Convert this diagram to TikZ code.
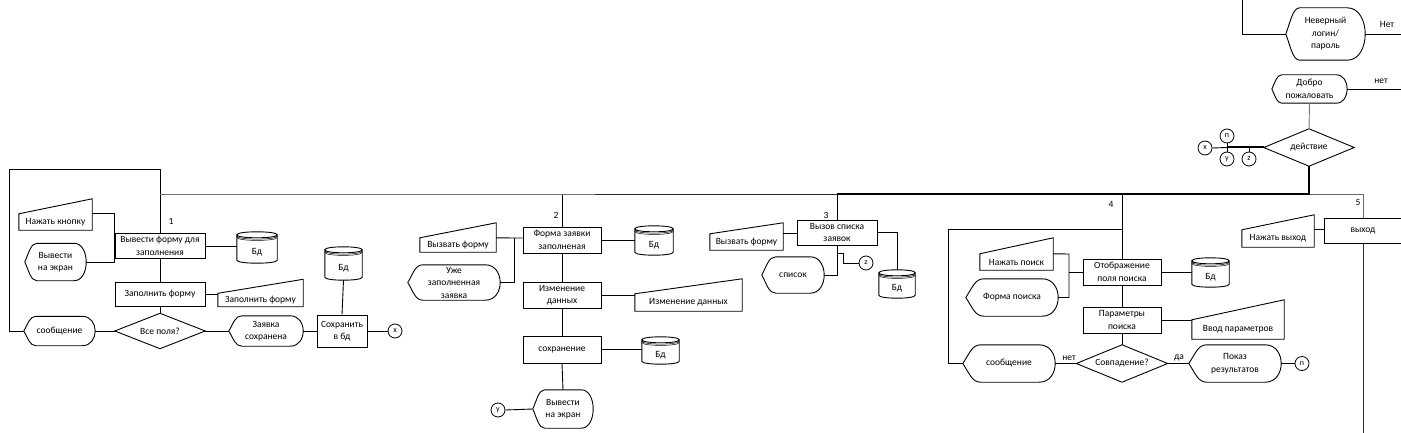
\documentclass[tikz,border=0pt]{standalone}
\usepackage{fontspec}
\setmainfont{Carlito}
\usetikzlibrary{calc}
\newcommand\dispS[3]{\draw[shp] (#1.west) .. controls ($(#1.west)!0.5!(#1.north west)+(0.35*#2pt,0)$) and ([xshift=0.5*#2pt]#1.north west) .. ([xshift=#2pt]#1.north west) -- ([xshift=-#3pt]#1.north east) .. controls ([xshift=#3pt/3]#1.north east) and ([xshift=#3pt/3]#1.south east) .. ([xshift=-#3pt]#1.south east) -- ([xshift=#2pt]#1.south west) .. controls ([xshift=0.5*#2pt]#1.south west) and ($(#1.west)!0.5!(#1.south west)+(0.35*#2pt,0)$) .. (#1.west);}
\newcommand\manS[2]{\draw[shp] (#1.south west) -- (#1.north west) -- ([yshift=#2pt]#1.north east) -- (#1.south east) -- cycle;}
\newcommand\diaS[1]{\draw[shp] (#1.west) -- (#1.north) -- (#1.east) -- (#1.south) -- cycle;}
\newcommand\dbS[1]{%
\draw[shp] (#1.north west) .. controls ([yshift=4pt]#1.north west) and ([yshift=4pt]#1.north east) .. (#1.north east) .. controls ([yshift=-4pt]#1.north east) and ([yshift=-4pt]#1.north west) .. (#1.north west) -- (#1.south west) .. controls ([yshift=-4pt]#1.south west) and ([yshift=-4pt]#1.south east) .. (#1.south east) -- (#1.north east);
\draw[shp,line width=0.5pt] ([yshift=-1.3pt]#1.north west) .. controls ([yshift=-5.3pt]#1.north west) and ([yshift=-5.3pt]#1.north east) .. ([yshift=-1.3pt]#1.north east);
\draw[shp,line width=0.5pt] ([yshift=-2.6pt]#1.north west) .. controls ([yshift=-6.6pt]#1.north west) and ([yshift=-6.6pt]#1.north east) .. ([yshift=-2.6pt]#1.north east);}
\begin{document}
\begin{tikzpicture}[x=1pt,y=-1pt,
  sz/.style 2 args={minimum width=#1pt, minimum height=#2pt},
  tx/.style={inner sep=0pt, align=center, font=\fontsize{9.5}{12.5}\selectfont},
  bx/.style={tx, draw, line width=0.9pt},
  dbt/.style={tx, text height=13pt, text depth=0pt},
  shp/.style={draw, line width=0.9pt},
  ln/.style={line width=0.9pt},
  bold/.style={line width=2pt},
  cc/.style={circle, draw, line width=0.8pt, minimum size=14pt, inner sep=0pt, font=\fontsize{8}{9}\selectfont},
  num/.style={inner sep=0pt, font=\fontsize{9.5}{11}\selectfont}]
\useasboundingbox (0,0) rectangle (1401,433);
\fill[white] (0,0) rectangle (1401,433);

% ---------- column 1
\node[bx, sz={90}{25}] (b1) at (160,246) {Вывести форму для\\заполнения};
\node[tx, sz={73}{16}] (m1) at (55.5,222) {Нажать кнопку};
\node[tx, sz={61}{37}] (d1) at (55.5,262) {Вывести\\на экран};
\node[dbt, sz={40}{25}] (db1) at (257,247.5) {Бд};
\node[bx, sz={90}{24}] (b2) at (160,294) {Заполнить форму};
\node[tx, sz={85}{13}] (m2) at (260.5,300) {Заполнить форму};
\node[tx, sz={90}{35}] (q1) at (160,331) {Все поля?};
\node[tx, sz={71}{29}] (d2) at (59.5,331) {сообщение};
\node[tx, sz={74}{30}] (d3) at (266,331) {Заявка\\сохранена};
\node[bx, sz={50}{32}] (b3) at (342,331) {Сохранить\\в бд};
\node[dbt, sz={37}{27}] (db2) at (343.5,263.5) {Бд};
\node[cc] (cx1) at (395,331) {x};
\node[num] (n1) at (171,221) {1};
\manS{m1}{15} \dispS{d1}{12}{12} \dbS{db1} \manS{m2}{14} \diaS{q1} \dispS{d2}{12}{13} \dispS{d3}{13}{13} \dbS{db2}

\coordinate (t0) at (9,169);
\coordinate (t1) at (160,169);
\coordinate (h1) at (160,194);
\coordinate (hm) at (595,194);
\coordinate (c2) at (562,194);
\coordinate (c3) at (837,194);
\coordinate (c4) at (1122,194);
\coordinate (hub) at (1309,194);
\coordinate (c5) at (1363,194);
\coordinate (c5b) at (1363,433);

\draw[ln] (d2.west) -| (t0) -- (t1) -- (b1.north);
\draw[ln] (m1.north east) -- (m1.north east -| b1.west) -- (b1.west |- d1.east) -- (d1.east);
\draw[ln] (b1.east) -- (b1.east -| db1.west);
\draw[ln] (b1.south) -- (b2.north);
\draw[ln] (b2.east) -- (b2.east -| m2.west);
\draw[ln] (b2.south) -- (q1.north);
\draw[ln] (q1.west) -- (d2.east);
\draw[ln] (q1.east) -- (d3.west);
\draw[ln] (d3.east) -- (b3.west);
\draw[ln] ([yshift=-3pt]db2.south) -- (b3.north);
\draw[ln] (b3.east) -- (cx1.west);

% ---------- column 2
\node[bx, sz={78}{26}] (b4) at (562,240) {Форма заявки\\заполненая};
\node[tx, sz={76}{14}] (m3) at (458,245) {Вызвать форму};
\node[tx, sz={92}{35}] (d4) at (454,282.5) {Уже\\заполненная\\заявка};
\node[dbt, sz={38}{23}] (db3) at (654,240.5) {Бд};
\node[bx, sz={78}{26}] (b5) at (562,295) {Изменение\\данных};
\node[tx, sz={107}{17}] (m4) at (688.5,302.5) {Изменение данных};
\node[bx, sz={78}{27}] (b6) at (562,349.5) {сохранение};
\node[dbt, sz={37}{21}] (db4) at (660.5,350.5) {Бд};
\node[tx, sz={60}{38}] (d5) at (563,409) {Вывести\\на экран};
\node[cc] (cy1) at (498,410) {y};
\node[num] (n2) at (556,215) {2};
\manS{m3}{15} \dispS{d4}{15}{15} \dbS{db3} \manS{m4}{15} \dbS{db4} \dispS{d5}{12}{12}
\coordinate (j2) at (514,238);
\draw[ln] (m3.north east) -- (j2) -- (j2 -| b4.west);
\draw[ln] (j2) |- (d4.east);
\draw[ln] (c2) -- (b4.north);
\draw[ln] (b4.east) -- (b4.east -| db3.west);
\draw[ln] (b4.south) -- (b5.north);
\draw[ln] (b5.east) -- (b5.east -| m4.west);
\draw[ln] (b5.south) -- (b6.north);
\draw[ln] (b6.east) -- (b6.east -| db4.west);
\draw[ln] (b6.south) -- (d5.north);
\draw[ln] (cy1.east) -- (d5.west);

% ---------- column 3
\node[bx, sz={80}{25}] (b7) at (837,232.5) {Вызов списка\\заявок};
\node[tx, sz={73}{16}] (m5) at (746.5,242) {Вызвать форму};
\node[tx, sz={62}{36}] (d6) at (793,275) {список};
\node[dbt, sz={36}{22}] (db5) at (897,284) {Бд};
\node[cc] (cz1) at (866,263) {z};
\node[num] (n3) at (826,215) {3};
\manS{m5}{11} \dispS{d6}{14}{14} \dbS{db5}
\coordinate (j3) at (837,253);
\coordinate (j3b) at (843,253);
\draw[ln] (c3) -- (b7.north);
\draw[ln] (m5.north east) -- (m5.north east -| b7.west);
\draw[ln] (b7.south) |- (d6.east);
\draw[ln] (j3) -- (j3b) |- (cz1.west);
\draw[ln] (b7.east) -| ([yshift=3pt]db5.north);

% ---------- column 4
\node[bx, sz={78}{26}] (b8) at (1122,272) {Отображение\\поля поиска};
\node[tx, sz={73}{16}] (m6) at (1016.5,262) {Нажать поиск};
\node[tx, sz={92}{37}] (d8) at (1012,297.5) {Форма поиска};
\node[dbt, sz={37}{23}] (db6) at (1210.5,272.5) {Бд};
\node[bx, sz={78}{26}] (b9) at (1122,320) {Параметры\\поиска};
\node[tx, sz={92}{19}] (m7) at (1238,329.5) {Ввод параметров};
\node[tx, sz={91}{37}] (q2) at (1122,363.5) {Совпадение?};
\node[tx, sz={92}{37}] (d7) at (1009,363.5) {сообщение};
\node[tx, sz={92}{37}] (d9) at (1235,363.5) {Показ\\результатов};
\node[cc] (cn1) at (1302,363.5) {n};
\node[num] (n4) at (1111,204) {4};
\node[num] (lnet) at (1069,358) {нет};
\node[num] (lda) at (1179,358) {да};
\manS{m6}{16} \dispS{d8}{18}{16} \dbS{db6} \manS{m7}{20} \diaS{q2} \dispS{d7}{18}{16} \dispS{d9}{18}{16}
\coordinate (j4) at (1069,254);
\coordinate (k0) at (948,229);
\coordinate (k1) at (1122,229);
\draw[ln] (c4) -- (b8.north);
\draw[ln] (m6.north east) -- (j4) |- (d8.east);
\draw[ln] (j4 |- b8.west) -- (b8.west);
\draw[ln] (b8.east) -- (b8.east -| db6.west);
\draw[ln] (b8.south) -- (b9.north);
\draw[ln] (b9.east) -- (b9.east -| m7.west);
\draw[ln] (b9.south) -- (q2.north);
\draw[ln] (q2.west) -- (d7.east);
\draw[ln] (q2.east) -- (d9.west);
\draw[ln] (d9.east) -- (cn1.west);
\draw[ln] (d7.west) -| (k0) -- (k1);

% ---------- column 5
\node[bx, sz={78}{25}] (b10) at (1363,230.5) {выход};
\node[tx, sz={72}{17}] (m8) at (1278,238.5) {Нажать выход};
\node[num] (n5) at (1358,202) {5};
\manS{m8}{15}
\draw[ln] (m8.north east) -- (m8.north east -| b10.west);
\draw[ln, black!60] (hub) -- (c5) -- (b10.north);
\draw[ln, black!80] (b10.south) -- (c5b);

% ---------- top
\node[tx, sz={79}{52}] (d10) at (1325.5,34) {Неверный\\логин/\\пароль};
\node[tx, sz={75}{28}] (d11) at (1309.5,89) {Добро\\пожаловать};
\node[tx, sz={90}{37}] (q3) at (1309,147.5) {действие};
\node[cc] (cx2) at (1205,148) {x};
\node[cc] (cn2) at (1227,136) {n};
\node[cc] (cy2) at (1227,159) {y};
\node[cc] (cz2) at (1249,159) {z};
\node[num] (lNet) at (1387,24) {Нет};
\node[num] (lnet2) at (1381,81) {нет};
\dispS{d10}{14}{18} \dispS{d11}{10}{11} \diaS{q3}
\coordinate (tp) at (1242,0);
\coordinate (e1) at (1401,34);
\coordinate (e2) at (1401,89);
\draw[ln] (tp) |- (d10.west);
\draw[ln] (d10.east) -- (e1);
\draw[ln] (d11.east) -- (e2);
\draw[ln, black!55] (d11.south) -- (q3.north);
\draw[bold] (q3.west) -- (cn2.south |- q3.west);
\draw[ln] (cn2.south |- q3.west) -- (cx2.east);
\draw[ln] (cn2.south) -- (cy2.north);
\draw[ln] (cz2.north) -- (cz2.north |- q3.west);
\draw[bold] (q3.south) -- (hub) -- (c3);
\draw[ln, black!85] (c3) -- (hm);
\draw[ln, black!55] (hm) -- (h1);
\end{tikzpicture}
\end{document}
